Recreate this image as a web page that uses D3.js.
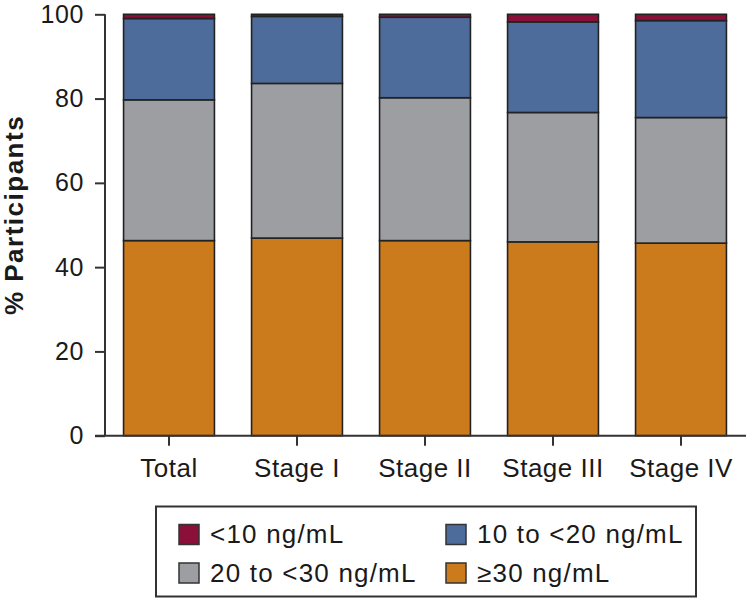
<!DOCTYPE html>
<html>
<head>
<meta charset="utf-8">
<script src="https://cdn.jsdelivr.net/npm/d3@7"></script>
<style>
  html, body { margin: 0; padding: 0; background: #fff; }
  svg { display: block; }
  text { font-family: "Liberation Sans", Arial, Helvetica, sans-serif; fill: #1a1a1a; }
</style>
</head>
<body>
<svg id="chart" width="746" height="599"></svg>
<script>
const categories = ["Total", "Stage I", "Stage II", "Stage III", "Stage IV"];
const seriesKeys = ["ge30", "r20to30", "r10to20", "lt10"];
const seriesLabels = {
  lt10: "<10 ng/mL",
  r10to20: "10 to <20 ng/mL",
  r20to30: "20 to <30 ng/mL",
  ge30: "\u226530 ng/mL"
};
const ge30    = [46.3, 46.9, 46.3, 46.0, 45.7];
const r20to30 = [33.4, 36.7, 33.9, 30.7, 29.8];
const r10to20 = [19.3, 15.9, 19.1, 21.5, 23.0];
const lt10    = [1.0, 0.5, 0.7, 1.8, 1.5];
const yTicks = [0, 20, 40, 60, 80, 100];
const colors = { lt10: "#8a0f39", r10to20: "#4d6c9b", r20to30: "#9d9ea2", ge30: "#cb7a1c" };

const table = categories.map((c, i) => ({
  cat: c, ge30: ge30[i], r20to30: r20to30[i], r10to20: r10to20[i], lt10: lt10[i]
}));

const svg = d3.select("#chart");
const x = d3.scaleBand().domain(categories).range([105, 745]).paddingInner(0.29).paddingOuter(0.145);
const y = d3.scaleLinear().domain([0, 100]).range([435.7, 14.3]);

const stack = d3.stack().keys(seriesKeys)(table);

const g = svg.append("g");
stack.forEach(layer => {
  g.selectAll(null).data(layer).enter().append("rect")
    .attr("x", d => x(d.data.cat))
    .attr("width", x.bandwidth())
    .attr("y", d => y(d[1]))
    .attr("height", d => y(d[0]) - y(d[1]))
    .attr("fill", colors[layer.key])
    .attr("stroke", "#222")
    .attr("stroke-width", 1.6);
});

// Y axis
const yAxis = d3.axisLeft(y).tickValues(yTicks).tickSize(10).tickPadding(11).tickFormat(d3.format("d"));
const ya = svg.append("g").attr("transform", "translate(105,0)").call(yAxis);
ya.select(".domain").attr("stroke", "#333").attr("stroke-width", 2).attr("d", `M0,${y(100)}V${y(0)}`);
ya.selectAll(".tick line").attr("stroke", "#333").attr("stroke-width", 2);
ya.selectAll(".tick text").attr("font-size", 25).attr("fill", "#1a1a1a").style("letter-spacing", "0.6px")
  .attr("font-family", "Liberation Sans, Arial, sans-serif");

// X axis
const xAxis = d3.axisBottom(x).tickSize(10).tickPadding(13).tickSizeOuter(0);
const xa = svg.append("g").attr("transform", `translate(0,${y(0)})`).call(xAxis);
xa.select(".domain").attr("stroke", "#333").attr("stroke-width", 2).attr("d", "M95,0H746");
xa.selectAll(".tick line").attr("stroke", "#333").attr("stroke-width", 2);
xa.selectAll(".tick text").attr("font-size", 26).attr("fill", "#1a1a1a").style("letter-spacing", "0.5px")
  .attr("font-family", "Liberation Sans, Arial, sans-serif");

// Y title
svg.append("text")
  .attr("transform", `translate(23,${(y(0) + y(100)) / 2 - 10}) rotate(-90)`)
  .attr("text-anchor", "middle")
  .attr("font-size", 26).attr("font-weight", "bold")
  .style("letter-spacing", "1.5px")
  .text("% Participants");

// Legend
const legend = svg.append("g");
legend.append("rect").attr("x", 156).attr("y", 506.5).attr("width", 540).attr("height", 90)
  .attr("fill", "none").attr("stroke", "#333").attr("stroke-width", 2);
const legendItems = [
  { key: "lt10", col: 0, row: 0 },
  { key: "r10to20", col: 1, row: 0 },
  { key: "r20to30", col: 0, row: 1 },
  { key: "ge30", col: 1, row: 1 }
];
const colX = [179, 446];
const rowY = [524.5, 563];
legendItems.forEach(it => {
  const lg = legend.append("g").attr("transform", `translate(${colX[it.col]},${rowY[it.row]})`);
  lg.append("rect").attr("width", 20).attr("height", 20).attr("fill", colors[it.key])
    .attr("stroke", "#333").attr("stroke-width", 1.5);
  lg.append("text").attr("x", 31).attr("y", 18.5).attr("font-size", 26)
    .style("letter-spacing", "1.2px").text(seriesLabels[it.key]);
});
</script>
</body>
</html>
